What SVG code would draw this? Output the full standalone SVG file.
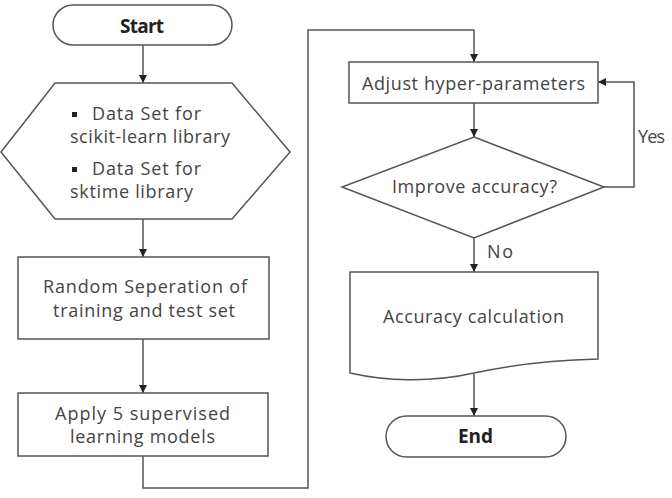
<svg xmlns="http://www.w3.org/2000/svg" width="672" height="498" viewBox="0 0 672 498">
<style>
.s{fill:#fff;stroke:#555;stroke-width:1.5}
.c{fill:none;stroke:#555;stroke-width:1.5}
.t{font-family:"Open Sans","Noto Sans","Liberation Sans",sans-serif;font-size:18px;fill:#444}
.b{font-family:"Open Sans","Noto Sans","Liberation Sans",sans-serif;font-size:19px;font-weight:bold;fill:#222}
</style>
<defs>
<marker id="ah" viewBox="0 0 10 10" refX="10" refY="5" markerWidth="8" markerHeight="8" markerUnits="userSpaceOnUse" orient="auto">
<path d="M0,0 L10,5 L0,10 Z" fill="#222"/>
</marker>
</defs>
<rect width="672" height="498" fill="#fff"/>
<g id="connectors">
<line class="c" x1="143" y1="45" x2="143" y2="83" marker-end="url(#ah)"/>
<line class="c" x1="143" y1="219" x2="143" y2="257" marker-end="url(#ah)"/>
<line class="c" x1="143" y1="339" x2="143" y2="393" marker-end="url(#ah)"/>
<polyline class="c" points="143,456 143,488 308,488 308,30 474,30 474,62" marker-end="url(#ah)"/>
<line class="c" x1="474" y1="103" x2="474" y2="137" marker-end="url(#ah)"/>
<polyline class="c" points="604,187 634,187 634,82 598,82" marker-end="url(#ah)"/>
<line class="c" x1="474" y1="238" x2="474" y2="272" marker-end="url(#ah)"/>
<line class="c" x1="474" y1="374" x2="474" y2="416" marker-end="url(#ah)"/>
<text class="t" x="638" y="143" textLength="27">Yes</text>
<text class="t" x="487" y="258" textLength="26">No</text>
</g>
<g id="start">
<rect class="s" x="53" y="5" width="179" height="40" rx="20"/>
<text class="b" x="120" y="33" textLength="44">Start</text>
</g>
<g id="dataset">
<polygon class="s" points="55,83 232,83 290,152 232,219 55,219 1,152"/>
<rect x="72" y="112" width="5" height="5" fill="#222"/>
<text class="t" x="92" y="120" textLength="109">Data Set for</text>
<text class="t" x="70" y="143" textLength="160">scikit-learn library</text>
<rect x="72" y="167" width="5" height="5" fill="#222"/>
<text class="t" x="92" y="175" textLength="109">Data Set for</text>
<text class="t" x="70" y="198" textLength="123">sktime library</text>
</g>
<g id="separation">
<rect class="s" x="18" y="257" width="251" height="82"/>
<text class="t" x="43" y="293" textLength="204">Random Seperation of</text>
<text class="t" x="53" y="317" textLength="182">training and test set</text>
</g>
<g id="apply">
<rect class="s" x="18" y="393" width="250" height="63"/>
<text class="t" x="55" y="420" textLength="175">Apply 5 supervised</text>
<text class="t" x="70" y="443" textLength="145">learning models</text>
</g>
<g id="adjust">
<rect class="s" x="349" y="62" width="249" height="41"/>
<text class="t" x="362" y="90" textLength="223">Adjust hyper-parameters</text>
</g>
<g id="improve">
<polygon class="s" points="474,137 604,187 474,238 342,187"/>
<text class="t" x="392" y="193" textLength="165">Improve accuracy?</text>
</g>
<g id="accuracy">
<path class="s" d="M350,272 H598 V359 C560,360 520,363 474,373 C430,383 385,381 350,373 Z"/>
<text class="t" x="383" y="323" textLength="181">Accuracy calculation</text>
</g>
<g id="end">
<rect class="s" x="386" y="416" width="180" height="41" rx="20.5"/>
<text class="b" x="458" y="443" textLength="35">End</text>
</g>
</svg>
